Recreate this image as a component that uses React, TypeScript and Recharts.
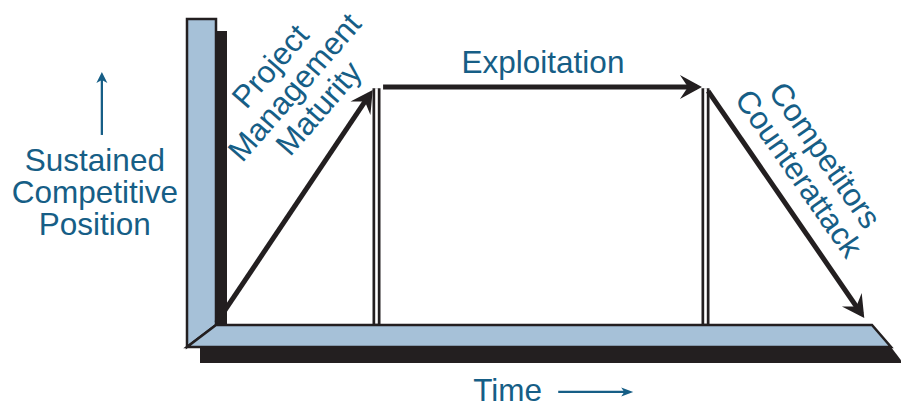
import React from "react";
import {
  ComposedChart,
  Line,
  XAxis,
  YAxis,
  ReferenceArea,
  ReferenceLine,
  ReferenceDot,
} from "recharts";

// phases of the competitive-position curve (time 0..100, level 0..100)
const PHASES = ["Project Management Maturity", "Exploitation", "Competitors Counterattack"];
const ARROW_START_TIME = [0.7, 26.0, 75.4];
const ARROW_START_LEVEL = [1.0, 100, 98.3];
const ARROW_END_TIME = [24.0, 73.7, 98.7];
const ARROW_END_LEVEL = [97.0, 100, 4.7];
const PHASE_BOUNDARIES = [25, 75];
const BOUNDARY_TOP = 99.5;

const PHASE_LABEL_LINES = [["Project", "Management", "Maturity"], ["Exploitation"], ["Competitors", "Counterattack"]];
const Y_LABEL_LINES = ["Sustained", "Competitive", "Position"];
const X_LABEL = "Time";

// where the labels sit, in chart units
const PHASE_LABEL_POS = [
  { time: 12.5, level: 100, angle: -49 },
  { time: 50.3, level: 110.3, angle: 0 },
  { time: 91.2, level: 67.6, angle: 55 },
];
const Y_LABEL_POS = { time: -17.8, level: 55.9 };
const X_LABEL_POS = { time: 39.7, level: -31.9 };

const INK = "#231f20";
const STEEL = "#a6c1d8";
const TEAL = "#165e86";
const FONT = "'Liberation Sans', Arial, sans-serif";
const FS = 31.5;
const LH = 32;

const ARROWS = PHASES.map((name, i) => ({
  name,
  data: [
    { time: ARROW_START_TIME[i], level: ARROW_START_LEVEL[i] },
    { time: ARROW_END_TIME[i], level: ARROW_END_LEVEL[i] },
  ],
}));

function Frame(props: any) {
  const { x, y, width, height } = props;
  const x0 = x;
  const x1 = x + width;
  const y1 = y + height;
  return (
    <g>
      <rect x={x0 + 4} y={y - 56} width={11} height={y1 - (y - 56)} fill={INK} />
      <polygon
        points={`${x0 - 12},${y1 + 22} ${x1 + 21},${y1 + 22} ${x1 + 33},${y1 + 38} ${x0 - 12},${y1 + 38}`}
        fill={INK}
      />
      <polygon
        points={`${x0 - 25},${y - 68} ${x0 + 4},${y - 68} ${x0 + 4},${y1} ${x0 - 25},${y1 + 22}`}
        fill={STEEL}
        stroke={INK}
        strokeWidth={2.5}
      />
      <polygon
        points={`${x0 + 4},${y1} ${x1 + 2},${y1} ${x1 + 21},${y1 + 22} ${x0 - 25},${y1 + 22}`}
        fill={STEEL}
        stroke={INK}
        strokeWidth={2.5}
        strokeLinejoin="miter"
      />
    </g>
  );
}

function phaseLabel(lines: string[], angle: number) {
  return (props: any) => {
    const { cx, cy } = props;
    const n = lines.length;
    return (
      <g transform={`translate(${cx},${cy}) rotate(${angle})`}>
        {lines.map((t, i) => (
          <text
            key={t}
            x={0}
            y={(i - (n - 1) / 2) * LH}
            textAnchor="middle"
            dominantBaseline="central"
            fill={TEAL}
            fontFamily={FONT}
            fontSize={FS}
          >
            {t}
          </text>
        ))}
      </g>
    );
  };
}

function YLabel(props: any) {
  const { cx, cy } = props;
  const ax = cx + 7;
  return (
    <g>
      <line x1={ax} y1={cy - 57} x2={ax} y2={cy - 112} stroke={TEAL} strokeWidth={2.3} />
      <path d={`M${ax},${cy - 120} L${ax - 5.5},${cy - 109} L${ax},${cy - 112} L${ax + 5.5},${cy - 109} Z`} fill={TEAL} />
      {Y_LABEL_LINES.map((t, i) => (
        <text
          key={t}
          x={cx}
          y={cy + (i - 1) * LH}
          textAnchor="middle"
          dominantBaseline="central"
          fill={TEAL}
          fontFamily={FONT}
          fontSize={FS}
        >
          {t}
        </text>
      ))}
    </g>
  );
}

function XLabel(props: any) {
  const { cx, cy } = props;
  const ay = cy - 9;
  return (
    <g>
      <text x={cx} y={cy} fill={TEAL} fontFamily={FONT} fontSize={FS}>
        {X_LABEL}
      </text>
      <line x1={cx + 85} y1={ay} x2={cx + 153} y2={ay} stroke={TEAL} strokeWidth={2.3} />
      <path d={`M${cx + 160},${ay} L${cx + 148},${ay - 4.5} L${cx + 151},${ay} L${cx + 148},${ay + 4.5} Z`} fill={TEAL} />
    </g>
  );
}

export default function App() {
  return (
    <div style={{ position: "absolute", left: 0, top: 0, width: 901, height: 407, background: "#fff" }}>
      <ComposedChart width={901} height={407} margin={{ top: 87, right: 31, bottom: 82, left: 212 }}>
        <defs>
          <marker
            id="arrowhead"
            viewBox="-18 -13 24 26"
            refX={0}
            refY={0}
            markerWidth={24}
            markerHeight={26}
            markerUnits="userSpaceOnUse"
            orient="auto"
          >
            <path d="M5,0 L-17,-12 L-9,0 L-17,12 Z" fill={INK} />
          </marker>
        </defs>
        <XAxis type="number" dataKey="time" domain={[0, 100]} hide />
        <YAxis type="number" dataKey="level" domain={[0, 100]} hide />
        <ReferenceArea x1={0} x2={100} y1={0} y2={100} ifOverflow="visible" shape={Frame} />
        {PHASE_BOUNDARIES.map((t) => (
          <ReferenceLine
            key={`d${t}`}
            segment={[{ x: t, y: 0 }, { x: t, y: BOUNDARY_TOP }]}
            stroke={INK}
            strokeWidth={8}
            ifOverflow="visible"
          />
        ))}
        {PHASE_BOUNDARIES.map((t) => (
          <ReferenceLine
            key={`w${t}`}
            segment={[{ x: t, y: 0.6 }, { x: t, y: BOUNDARY_TOP }]}
            stroke="#fff"
            strokeWidth={2.6}
            ifOverflow="visible"
          />
        ))}
        {ARROWS.map((a) => (
          <Line
            key={a.name}
            name={a.name}
            data={a.data}
            dataKey="level"
            type="linear"
            stroke={INK}
            strokeWidth={5}
            dot={false}
            activeDot={false}
            markerEnd="url(#arrowhead)"
            isAnimationActive={false}
          />
        ))}
        {PHASE_LABEL_POS.map((p, i) => (
          <ReferenceDot
            key={PHASES[i]}
            x={p.time}
            y={p.level}
            r={0}
            ifOverflow="visible"
            shape={phaseLabel(PHASE_LABEL_LINES[i], p.angle)}
          />
        ))}
        <ReferenceDot x={Y_LABEL_POS.time} y={Y_LABEL_POS.level} r={0} ifOverflow="visible" shape={YLabel} />
        <ReferenceDot x={X_LABEL_POS.time} y={X_LABEL_POS.level} r={0} ifOverflow="visible" shape={XLabel} />
      </ComposedChart>
    </div>
  );
}
